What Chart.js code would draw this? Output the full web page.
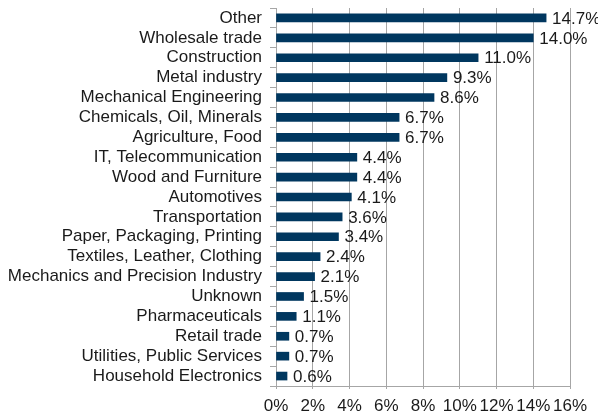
<!DOCTYPE html>
<html>
<head>
<meta charset="utf-8">
<script src="https://cdn.jsdelivr.net/npm/chart.js@4/dist/chart.umd.min.js"></script>
<style>
  html, body { margin: 0; padding: 0; background: #fff; }
  #wrap { width: 598px; height: 411px; }
</style>
</head>
<body>
<div id="wrap"><canvas id="myChart" width="598" height="411"></canvas></div>
<script>
const sectors = [
  'Other', 'Wholesale trade', 'Construction', 'Metal industry',
  'Mechanical Engineering', 'Chemicals, Oil, Minerals', 'Agriculture, Food',
  'IT, Telecommunication', 'Wood and Furniture', 'Automotives',
  'Transportation', 'Paper, Packaging, Printing', 'Textiles, Leather, Clothing',
  'Mechanics and Precision Industry', 'Unknown', 'Pharmaceuticals',
  'Retail trade', 'Utilities, Public Services', 'Household Electronics'
]
const shares = [14.7, 14.0, 11.0, 9.3, 8.6, 6.7, 6.7, 4.4, 4.4, 4.1, 3.6, 3.4, 2.4, 2.1, 1.5, 1.1, 0.7, 0.7, 0.6]
const xTicks = [0, 2, 4, 6, 8, 10, 12, 14, 16]

const fontFamily = '"Liberation Sans", Arial, sans-serif'
const fontSize = 17
const textColor = '#1a1a1a'
const gridColor = '#a6a6a6'

// value labels at the end of each bar
const valueLabels = {
  id: 'valueLabels',
  afterDatasetsDraw(chart) {
    const ctx = chart.ctx
    const meta = chart.getDatasetMeta(0)
    ctx.save()
    ctx.font = fontSize + 'px ' + fontFamily
    ctx.fillStyle = textColor
    ctx.textAlign = 'left'
    ctx.textBaseline = 'middle'
    meta.data.forEach((bar, i) => {
      ctx.fillText(shares[i].toFixed(1) + '%', bar.x + 6, bar.y + 1)
    })
    ctx.restore()
  }
}

const config = {
  type: 'bar',
  data: {
    labels: sectors,
    datasets: [{
      data: shares,
      backgroundColor: '#00375f',
      borderWidth: 0,
      barThickness: 8
    }]
  },
  options: {
    responsive: false,
    animation: false,
    indexAxis: 'y',
    layout: { padding: { top: 8, right: 28, left: 0, bottom: 0 } },
    plugins: {
      legend: { display: false },
      tooltip: { enabled: false }
    },
    scales: {
      x: {
        min: 0,
        max: 16,
        afterBuildTicks: scale => {
          scale.ticks = xTicks.map(v => ({ value: v }))
        },
        afterFit: scale => { scale.height = 25 },
        grid: {
          color: gridColor,
          lineWidth: 1,
          tickLength: 3
        },
        border: { color: gridColor },
        ticks: {
          color: textColor,
          font: { family: fontFamily, size: fontSize },
          padding: 7,
          maxRotation: 0,
          autoSkip: false,
          callback: v => v + '%'
        }
      },
      y: {
        afterFit: scale => {
          scale.width = 276
          scale.paddingTop = 0
          scale.paddingBottom = 0
        },
        grid: {
          offset: true,
          drawOnChartArea: false,
          color: gridColor,
          tickLength: 6
        },
        border: { color: gridColor },
        ticks: {
          color: textColor,
          font: { family: fontFamily, size: fontSize },
          padding: 8,
          autoSkip: false
        }
      }
    }
  },
  plugins: [valueLabels]
}

const myChart = new Chart(document.getElementById('myChart'), config)
</script>
</body>
</html>
